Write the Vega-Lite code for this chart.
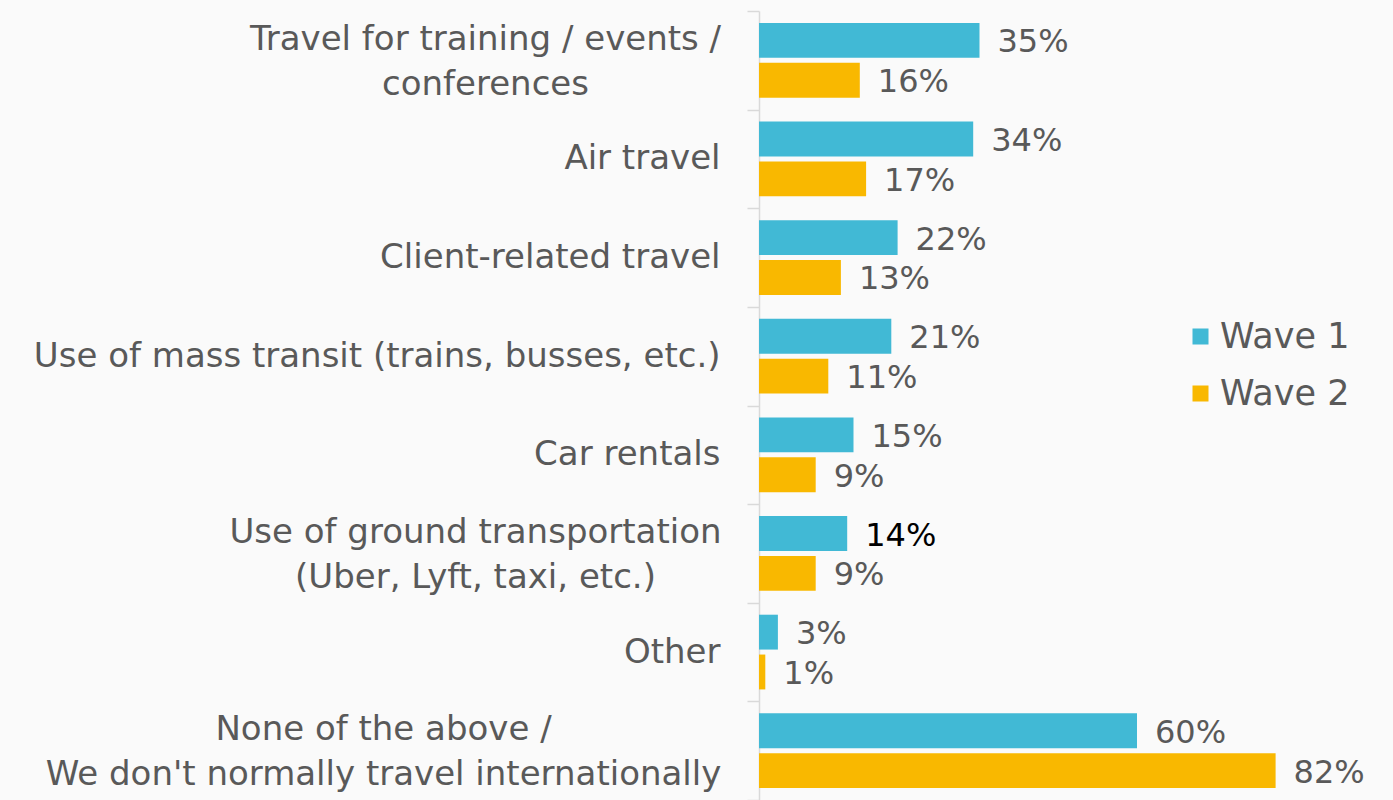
{
  "$schema": "https://vega.github.io/schema/vega-lite/v6.json",
  "autosize": "none",
  "width": 630,
  "height": 789,
  "padding": {"left": 759, "top": 11, "right": 4, "bottom": 0},
  "background": "#fafafa",
  "config": {"view": {"stroke": null}, "font": "DejaVu Sans"},
  "data": {"values": [
    {"category": "Travel for training / events / conferences", "wave": "Wave 1", "value": 0.35},
    {"category": "Travel for training / events / conferences", "wave": "Wave 2", "value": 0.16},
    {"category": "Air travel", "wave": "Wave 1", "value": 0.34},
    {"category": "Air travel", "wave": "Wave 2", "value": 0.17},
    {"category": "Client-related travel", "wave": "Wave 1", "value": 0.22},
    {"category": "Client-related travel", "wave": "Wave 2", "value": 0.13},
    {"category": "Use of mass transit (trains, busses, etc.)", "wave": "Wave 1", "value": 0.21},
    {"category": "Use of mass transit (trains, busses, etc.)", "wave": "Wave 2", "value": 0.11},
    {"category": "Car rentals", "wave": "Wave 1", "value": 0.15},
    {"category": "Car rentals", "wave": "Wave 2", "value": 0.09},
    {"category": "Use of ground transportation (Uber, Lyft, taxi, etc.)", "wave": "Wave 1", "value": 0.14},
    {"category": "Use of ground transportation (Uber, Lyft, taxi, etc.)", "wave": "Wave 2", "value": 0.09},
    {"category": "Other", "wave": "Wave 1", "value": 0.03},
    {"category": "Other", "wave": "Wave 2", "value": 0.01},
    {"category": "None of the above / We don't normally travel internationally", "wave": "Wave 1", "value": 0.60},
    {"category": "None of the above / We don't normally travel internationally", "wave": "Wave 2", "value": 0.82}
  ]},
  "encoding": {
    "y": {
      "field": "category", "type": "nominal", "sort": null,
      "scale": {"paddingInner": 0, "paddingOuter": 0},
      "axis": {
        "title": null,
        "tickBand": "extent",
        "domainColor": "#d9d9d9", "domainWidth": 1.5,
        "tickColor": "#d9d9d9", "tickSize": 12, "tickWidth": 1.5,
        "labelFontSize": 34, "labelColor": "#595959", "labelLimit": 900,
        "labelPadding": {"condition": [
          {"test": "datum.value == 'Travel for training / events / conferences'", "value": 262},
          {"test": "datum.value == 'Use of ground transportation (Uber, Lyft, taxi, etc.)'", "value": 272},
          {"test": "datum.value == 'None of the above / We don\\'t normally travel internationally'", "value": 364}
        ], "value": 27},
        "labelAlign": {"condition": {"test": "datum.value == 'Travel for training / events / conferences' || datum.value == 'Use of ground transportation (Uber, Lyft, taxi, etc.)' || datum.value == 'None of the above / We don\\'t normally travel internationally'", "value": "center"}, "value": "right"},
        "labelOffset": {"condition": {"test": "datum.value == 'Travel for training / events / conferences' || datum.value == 'Use of ground transportation (Uber, Lyft, taxi, etc.)' || datum.value == 'None of the above / We don\\'t normally travel internationally'", "value": -21}, "value": 0},
        "labelLineHeight": 45,
        "labelExpr": "datum.value == 'Travel for training / events / conferences' ? ['Travel for training / events /', 'conferences'] : datum.value == 'Use of ground transportation (Uber, Lyft, taxi, etc.)' ? ['Use of ground transportation', '(Uber, Lyft, taxi, etc.)'] : datum.value == 'None of the above / We don\\'t normally travel internationally' ? ['None of the above /', 'We don\\'t normally travel internationally'] : datum.value"
      }
    },
    "x": {"field": "value", "type": "quantitative", "scale": {"domain": [0, 1]}, "axis": null},
    "yOffset": {"field": "wave", "type": "nominal", "sort": ["Wave 1", "Wave 2"], "scale": {"paddingInner": 0.125, "paddingOuter": 0.3}}
  },
  "layer": [
    {
      "mark": {"type": "bar"},
      "encoding": {
        "color": {
          "field": "wave", "type": "nominal",
          "scale": {"domain": ["Wave 1", "Wave 2"], "range": ["#41b9d5", "#f9b800"]},
          "legend": {
            "title": null, "orient": "none", "legendX": 424, "legendY": 308,
            "symbolType": "square", "symbolSize": 256, "symbolStrokeWidth": 0,
            "labelFontSize": 35, "labelColor": "#595959", "rowPadding": 21, "labelOffset": 2
          }
        }
      }
    },
    {
      "mark": {"type": "text", "align": "left", "baseline": "middle", "dx": 18, "dy": 2, "fontSize": 32},
      "encoding": {
        "text": {"field": "value", "type": "quantitative", "format": ".0%"},
        "color": {
          "condition": {"test": "datum.category == 'Use of ground transportation (Uber, Lyft, taxi, etc.)' && datum.wave == 'Wave 1'", "value": "#000000"},
          "value": "#595959"
        }
      }
    }
  ]
}
